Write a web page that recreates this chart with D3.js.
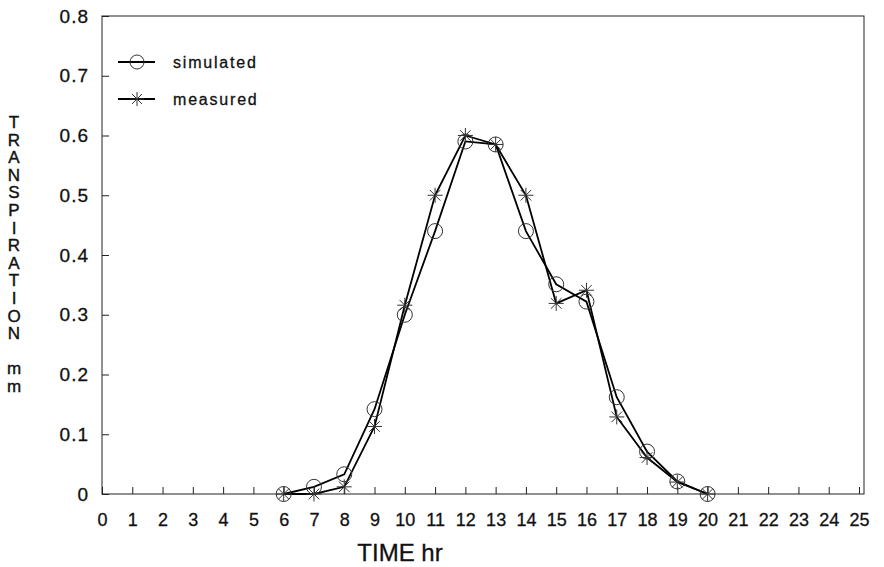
<!DOCTYPE html>
<html>
<head>
<meta charset="utf-8">
<script src="https://cdn.jsdelivr.net/npm/d3@7"></script>
<style>
  body { margin: 0; background: #fff; }
  text { font-family: "Liberation Sans", Arial, sans-serif; fill: #111; }
</style>
</head>
<body>
<script>
// chart data
var hours = [6, 7, 8, 9, 10, 11, 12, 13, 14, 15, 16, 17, 18, 19, 20];
var simulated = [0, 0.012, 0.033, 0.142, 0.30, 0.44, 0.59, 0.585, 0.44, 0.351, 0.322, 0.162, 0.071, 0.021, 0];
var measured = [0, 0, 0.012, 0.113, 0.316, 0.50, 0.60, 0.585, 0.50, 0.319, 0.341, 0.129, 0.061, 0.02, 0];
var xTicks = d3.range(0, 26);
var yTicks = [0, 0.1, 0.2, 0.3, 0.4, 0.5, 0.6, 0.7, 0.8];
var yTitle = "TRANSPIRATION mm";
var xTitle = "TIME hr";

var width = 884;
var height = 567;
var pLeft = 102;
var pTop = 16;
var pBottom = 494;
var pRight = 864;

var svg = d3
  .select("body")
  .append("svg")
  .attr("width", width)
  .attr("height", height);

var xScale = d3
  .scaleLinear()
  .domain([0, 25])
  .range([pLeft, 859]);
var yScale = d3
  .scaleLinear()
  .domain([0, 0.8])
  .range([pBottom, pTop]);

// frame
svg
  .append("rect")
  .attr("x", pLeft)
  .attr("y", pTop)
  .attr("width", pRight - pLeft)
  .attr("height", pBottom - pTop)
  .attr("fill", "none")
  .attr("stroke", "#222")
  .attr("stroke-width", 1);

// bottom axis, ticks pointing in
var xAxis = svg
  .append("g")
  .attr("transform", "translate(0," + pBottom + ")")
  .call(d3.axisBottom(xScale).tickValues(xTicks).tickSizeInner(-7).tickSizeOuter(0).tickPadding(19));
xAxis.select(".domain").remove();
xAxis
  .selectAll("text")
  .attr("font-size", 18)
  .attr("font-family", "Liberation Sans, Arial, sans-serif")
  .attr("fill", "#111")
  .attr("stroke", "#111")
  .attr("stroke-width", 0.3);
xAxis.selectAll("line").attr("stroke", "#222");

// left axis
var yAxis = svg
  .append("g")
  .attr("transform", "translate(" + pLeft + ",0)")
  .call(
    d3
      .axisLeft(yScale)
      .tickValues(yTicks)
      .tickFormat(function(d) { return d == 0 ? "0" : d3.format(".1f")(d); })
      .tickSizeInner(-7)
      .tickSizeOuter(0)
      .tickPadding(13)
  );
yAxis.select(".domain").remove();
yAxis
  .selectAll("text")
  .attr("font-size", 19)
  .attr("letter-spacing", 1)
  .attr("font-family", "Liberation Sans, Arial, sans-serif")
  .attr("fill", "#111")
  .attr("stroke", "#111")
  .attr("stroke-width", 0.3);
yAxis.selectAll("line").attr("stroke", "#222");

// axis titles
var letters = yTitle.split("");
svg
  .append("g")
  .selectAll("text")
  .data(letters)
  .enter()
  .append("text")
  .attr("x", 14)
  .attr("y", function(d, i) { return 128 + i * 17.6; })
  .attr("text-anchor", "middle")
  .attr("font-size", 17)
  .attr("stroke", "#111")
  .attr("stroke-width", 0.4)
  .text(function(d) { return d; });

svg
  .append("text")
  .attr("x", 400)
  .attr("y", 561)
  .attr("text-anchor", "middle")
  .attr("font-size", 24)
  .attr("stroke", "#111")
  .attr("stroke-width", 0.3)
  .text(xTitle);

// series
var line = d3
  .line()
  .x(function(d) { return xScale(d[0]); })
  .y(function(d) { return yScale(d[1]); });

var simPts = hours.map(function(h, i) { return [h, simulated[i]]; });
var meaPts = hours.map(function(h, i) { return [h, measured[i]]; });

svg
  .append("path")
  .datum(simPts)
  .attr("d", line)
  .attr("fill", "none")
  .attr("stroke", "#000")
  .attr("stroke-width", 1.8);
svg
  .append("path")
  .datum(meaPts)
  .attr("d", line)
  .attr("fill", "none")
  .attr("stroke", "#000")
  .attr("stroke-width", 1.8);

function star(g, cx, cy, r) {
  for (var k = 0; k < 4; k++) {
    var a = (k * Math.PI) / 4;
    g.append("line")
      .attr("x1", cx - r * Math.cos(a))
      .attr("y1", cy - r * Math.sin(a))
      .attr("x2", cx + r * Math.cos(a))
      .attr("y2", cy + r * Math.sin(a))
      .attr("stroke", "#333")
      .attr("stroke-width", 1);
  }
}

svg
  .append("g")
  .selectAll("circle")
  .data(simPts)
  .enter()
  .append("circle")
  .attr("cx", function(d) { return xScale(d[0]); })
  .attr("cy", function(d) { return yScale(d[1]); })
  .attr("r", 7.5)
  .attr("fill", "none")
  .attr("stroke", "#333")
  .attr("stroke-width", 1);

var stars = svg.append("g");
meaPts.forEach(function(d) {
  star(stars, xScale(d[0]), yScale(d[1]), 7.5);
});

// legend
var legend = svg.append("g");
legend
  .append("line")
  .attr("x1", 118)
  .attr("x2", 155)
  .attr("y1", 62)
  .attr("y2", 62)
  .attr("stroke", "#000")
  .attr("stroke-width", 1.8);
legend
  .append("circle")
  .attr("cx", 137)
  .attr("cy", 62)
  .attr("r", 7)
  .attr("fill", "none")
  .attr("stroke", "#333")
  .attr("stroke-width", 1);
legend
  .append("line")
  .attr("x1", 118)
  .attr("x2", 155)
  .attr("y1", 99)
  .attr("y2", 99)
  .attr("stroke", "#000")
  .attr("stroke-width", 1.8);
star(legend, 137, 99, 7);
legend
  .append("text")
  .attr("x", 173)
  .attr("y", 68)
  .attr("font-size", 16)
  .attr("letter-spacing", 1.8)
  .attr("stroke", "#111")
  .attr("stroke-width", 0.3)
  .text("simulated");
legend
  .append("text")
  .attr("x", 173)
  .attr("y", 105)
  .attr("font-size", 16)
  .attr("letter-spacing", 1.8)
  .attr("stroke", "#111")
  .attr("stroke-width", 0.3)
  .text("measured");
</script>
</body>
</html>
